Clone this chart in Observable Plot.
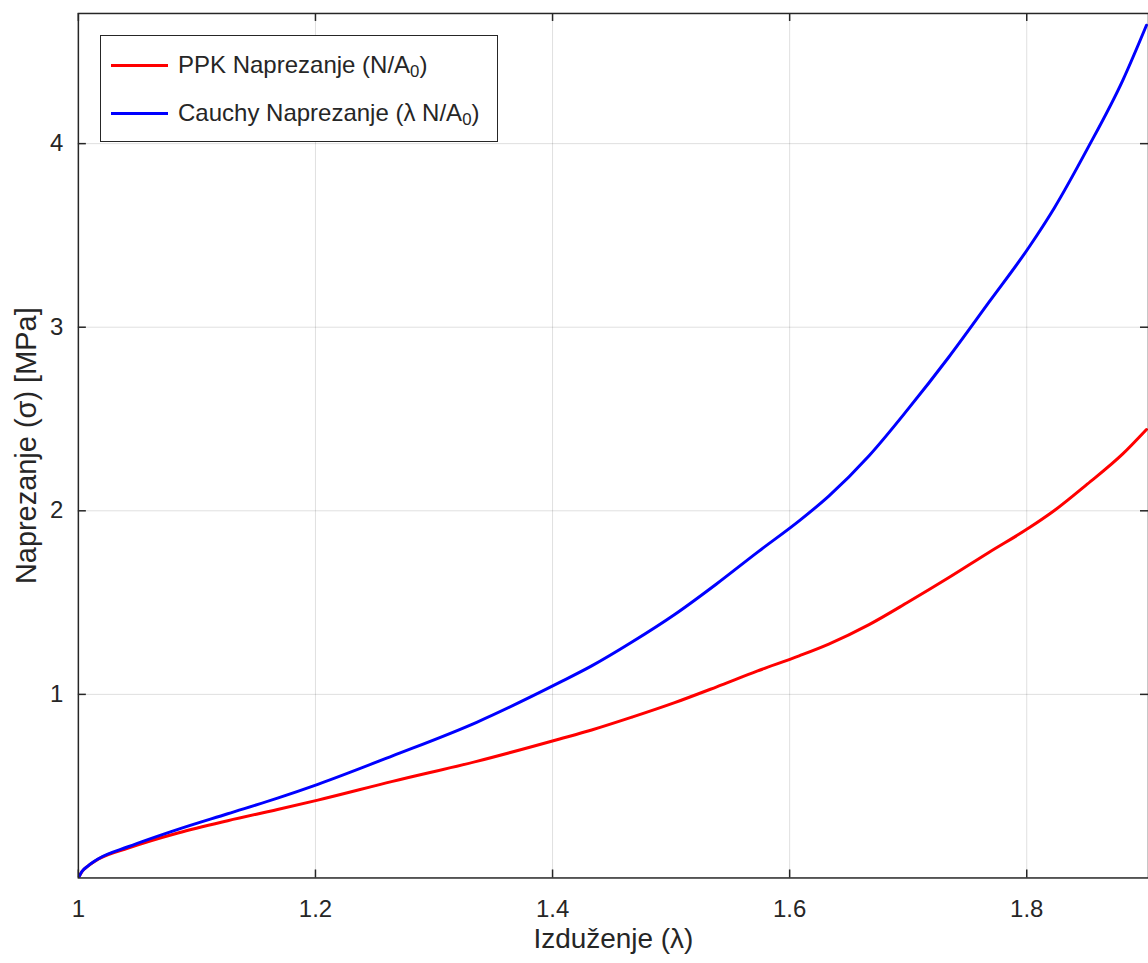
<!DOCTYPE html>
<html>
<head>
<meta charset="utf-8">
<script src="https://cdn.jsdelivr.net/npm/d3@7"></script>
<script src="https://cdn.jsdelivr.net/npm/@observablehq/plot@0.6"></script>
<style>
  html, body { margin: 0; padding: 0; overflow: hidden; background: #fff; }
  #wrap { position: relative; width: 1148px; height: 963px; overflow: hidden; }
  #legend {
    position: absolute; left: 100px; top: 35px; width: 396px; height: 105px;
    border: 1.5px solid #262626; background: #fff;
    font-family: "Liberation Sans", Arial, Helvetica, sans-serif; font-size: 24px; color: #262626;
  }
  .item { position: absolute; left: 10px; display: flex; align-items: center; height: 30px; }
  .swatch { width: 57px; height: 3px; margin-right: 10px; }
  sub { font-size: 0.7em; vertical-align: -0.25em; line-height: 0; }
</style>
</head>
<body>
<div id="wrap">
  <div id="chart"></div>
  <div id="legend">
    <div class="item" style="top:14px"><div class="swatch" style="background:#ff0000"></div><span>PPK Naprezanje (N/A<sub>0</sub>)</span></div>
    <div class="item" style="top:62px"><div class="swatch" style="background:#0000ff"></div><span>Cauchy Naprezanje (λ N/A<sub>0</sub>)</span></div>
  </div>
</div>
<script>
// Stretch (λ)
const lambda = [1.000, 1.003, 1.008, 1.017, 1.042, 1.084, 1.126, 1.168, 1.202, 1.265, 1.336, 1.406, 1.433, 1.467, 1.503, 1.538, 1.573, 1.608, 1.633, 1.667, 1.700, 1.734, 1.768, 1.802, 1.823, 1.851, 1.881, 1.901];
// PPK stress (N/A0) [MPa]
const ppk = [0, 0.035, 0.064, 0.103, 0.163, 0.245, 0.312, 0.373, 0.424, 0.526, 0.635, 0.757, 0.806, 0.876, 0.955, 1.040, 1.128, 1.210, 1.274, 1.380, 1.503, 1.635, 1.773, 1.907, 2.000, 2.145, 2.310, 2.443];
// Cauchy stress (λ N/A0) [MPa]
const cauchy = [0, 0.035, 0.065, 0.105, 0.170, 0.265, 0.350, 0.435, 0.510, 0.665, 0.848, 1.065, 1.155, 1.285, 1.435, 1.600, 1.775, 1.945, 2.080, 2.300, 2.555, 2.835, 3.135, 3.437, 3.647, 3.970, 4.345, 4.645];

const xTicks = [1, 1.2, 1.4, 1.6, 1.8];
const yTicks = [1, 2, 3, 4];
const seriesNames = ["PPK Naprezanje (N/A0)", "Cauchy Naprezanje (λ N/A0)"];
const seriesColors = ["#ff0000", "#0000ff"];
const xLabel = "Izduženje (λ)";
const yLabel = "Naprezanje (σ) [MPa]";

const rows = [];
lambda.forEach((l, i) => rows.push({x: l, y: ppk[i], s: seriesNames[0]}));
lambda.forEach((l, i) => rows.push({x: l, y: cauchy[i], s: seriesNames[1]}));

const W = 1150, H = 963, mt = 13, mb = 84, ml = 78, mr = 0;
const innerH = H - mt - mb, innerW = W - ml - mr;
const tickLen = 8;
const font = '"Liberation Sans", Arial, Helvetica, sans-serif';
const ink = "#262626";

const chart = Plot.plot({
  width: W, height: H,
  marginTop: mt, marginBottom: mb, marginLeft: ml, marginRight: mr,
  style: {fontFamily: font, fontSize: "24px", color: ink, background: "#fff"},
  x: {domain: [1, 1.9027]},
  y: {domain: [0, 4.709]},
  color: {domain: seriesNames, range: seriesColors},
  marks: [
    Plot.gridX(xTicks, {stroke: "#000", strokeOpacity: 0.13, strokeWidth: 1}),
    Plot.gridY(yTicks, {stroke: "#000", strokeOpacity: 0.13, strokeWidth: 1}),
    Plot.line(rows, {x: "x", y: "y", z: "s", stroke: "s", strokeWidth: 3, curve: "monotone-x", clip: true}),
    // inward ticks
    Plot.tickX(xTicks, {x: d => d, stroke: ink, strokeWidth: 1.5, insetTop: innerH - tickLen}),
    Plot.tickX(xTicks, {x: d => d, stroke: ink, strokeWidth: 1.5, insetBottom: innerH - tickLen}),
    Plot.tickY(yTicks, {y: d => d, stroke: ink, strokeWidth: 1.5, insetRight: innerW - tickLen}),
    Plot.tickY(yTicks, {y: d => d, stroke: ink, strokeWidth: 1.5, insetLeft: innerW - tickLen}),
    Plot.frame({stroke: ink, strokeWidth: 1.5}),
    Plot.axisX(xTicks, {tickSize: 0, tickPadding: 22, fontSize: 24, fill: ink, label: null, tickFormat: d => String(d)}),
    Plot.axisY(yTicks, {tickSize: 0, tickPadding: 15, fontSize: 24, fill: ink, label: null, tickFormat: d => String(d)}),
    Plot.text([xLabel], {frameAnchor: "bottom", dy: 70, fontSize: 28, fill: ink}),
    Plot.text([yLabel], {frameAnchor: "left", textAnchor: "middle", rotate: -90, dx: -52, dy: 0, fontSize: 29, fill: ink})
  ]
});
document.getElementById("chart").appendChild(chart);
</script>
</body>
</html>
